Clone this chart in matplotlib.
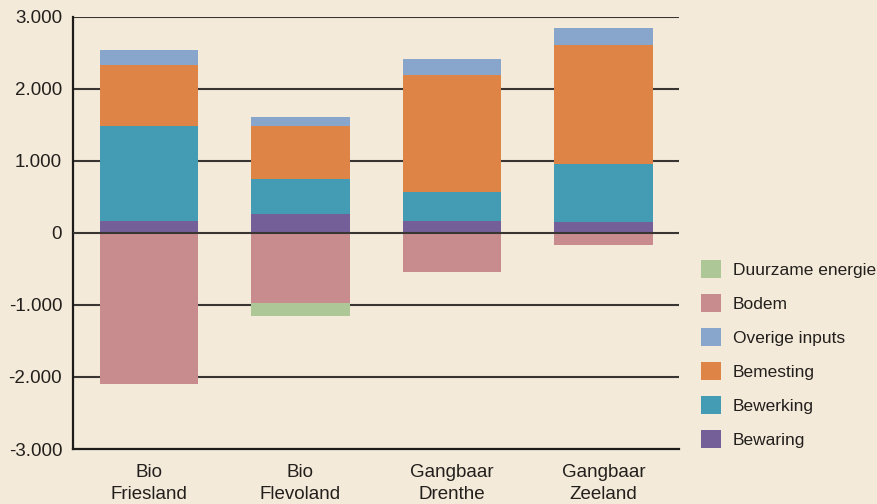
import numpy as np
import matplotlib.pyplot as plt
from matplotlib.patches import Patch

plt.rcParams['font.family'] = ['Liberation Sans', 'DejaVu Sans']

# categories and series (kg CO2-eq per ha)
categories = ['Bio\nFriesland', 'Bio\nFlevoland', 'Gangbaar\nDrenthe', 'Gangbaar\nZeeland']
bewaring = [162, 260, 162, 149]
bewerking = [1320, 481, 403, 809]
bemesting = [847, 741, 1625, 1649]
overige_inputs = [208, 125, 222, 236]
bodem = [-2101, -976, -542, -167]
duurzame_energie = [0, -181, 0, 0]

yticks = [-3000, -2000, -1000, 0, 1000, 2000, 3000]
ytick_labels = ['-3.000', '-2.000', '-1.000', '0', '1.000', '2.000', '3.000']

colors = {
    'Duurzame energie': '#adc896',
    'Bodem': '#c98c8e',
    'Overige inputs': '#88a5cc',
    'Bemesting': '#de8447',
    'Bewerking': '#439bb4',
    'Bewaring': '#745f99',
}
bg = '#f3eada'

fig = plt.figure(figsize=(8.78, 5.04), dpi=100, facecolor=bg)
ax = fig.add_axes([0.0835, 0.109, 0.690, 0.858])
ax.set_facecolor(bg)

x = np.arange(len(categories))
w = 0.65

# positive stack
bottom = np.zeros(len(categories))
for name, vals in [('Bewaring', bewaring), ('Bewerking', bewerking),
                   ('Bemesting', bemesting), ('Overige inputs', overige_inputs)]:
    vals = np.array(vals, dtype=float)
    ax.bar(x, vals, w, bottom=bottom, color=colors[name], zorder=2)
    bottom += vals

# negative stack
bottom = np.zeros(len(categories))
for name, vals in [('Bodem', bodem), ('Duurzame energie', duurzame_energie)]:
    vals = np.array(vals, dtype=float)
    ax.bar(x, vals, w, bottom=bottom, color=colors[name], zorder=2)
    bottom += vals

ax.set_xlim(-0.5, len(categories) - 0.5)
ax.set_ylim(-3000, 3000)
ax.set_yticks(yticks)
ax.set_yticklabels(ytick_labels)
ax.set_xticks(x)
ax.set_xticklabels(categories, linespacing=1.35)

for yv in yticks[1:]:
    ax.axhline(yv, color='#383532', lw=1.5, zorder=1 if yv != 0 else 3)

for s in ['top', 'right']:
    ax.spines[s].set_visible(False)
for s in ['left', 'bottom']:
    ax.spines[s].set_color('#1e1c1a')
    ax.spines[s].set_linewidth(1.6)

ax.tick_params(axis='both', length=0, labelsize=13.5, colors='#231f1c')
ax.tick_params(axis='y', pad=8)
ax.tick_params(axis='x', pad=11)

order = ['Duurzame energie', 'Bodem', 'Overige inputs', 'Bemesting', 'Bewerking', 'Bewaring']
handles = [Patch(facecolor=colors[n], label=n) for n in order]
fig.legend(handles=handles, loc='upper left', bbox_to_anchor=(0.79, 0.497),
           frameon=False, fontsize=12.5, handlelength=1.15, handleheight=1.15,
           handletextpad=0.7, labelspacing=0.95, borderaxespad=0, labelcolor='#231f1c')

fig.savefig('out.png', dpi=100, facecolor=bg)
